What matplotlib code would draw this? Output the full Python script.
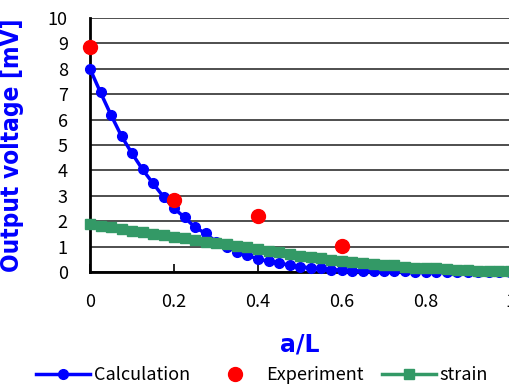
import matplotlib
matplotlib.use("Agg")
import matplotlib.pyplot as plt

x_pos = [0.0, 0.025, 0.05, 0.075, 0.1, 0.125, 0.15, 0.175, 0.2, 0.225,
         0.25, 0.275, 0.3, 0.325, 0.35, 0.375, 0.4, 0.425, 0.45, 0.475,
         0.5, 0.525, 0.55, 0.575, 0.6, 0.625, 0.65, 0.675, 0.7, 0.725,
         0.75, 0.775, 0.8, 0.825, 0.85, 0.875, 0.9, 0.925, 0.95, 0.975, 1.0]

calculation = [8.00, 7.07, 6.18, 5.35, 4.67, 4.04, 3.49, 2.96, 2.51, 2.15,
               1.76, 1.52, 1.19, 1.00, 0.80, 0.67, 0.50, 0.43, 0.34, 0.28,
               0.21, 0.16, 0.14, 0.09, 0.08, 0.05, 0.04, 0.03, 0.03, 0.02,
               0.02, 0.01, 0.01, 0.01, 0.01, 0.0, 0.0, 0.0, 0.0, 0.0, 0.0]

strain = [1.89, 1.82, 1.76, 1.69, 1.62, 1.56, 1.51, 1.45, 1.39, 1.33,
          1.27, 1.20, 1.14, 1.09, 1.03, 0.97, 0.90, 0.84, 0.77, 0.71,
          0.64, 0.58, 0.54, 0.48, 0.43, 0.38, 0.36, 0.33, 0.28, 0.27,
          0.21, 0.16, 0.15, 0.14, 0.10, 0.08, 0.07, 0.04, 0.03, 0.02, 0.02]

exp_x = [0.0, 0.2, 0.4, 0.6]
experiment = [8.85, 2.85, 2.2, 1.02]

x_ticks = [0, 0.2, 0.4, 0.6, 0.8, 1]
x_ticklabels = ["0", "0.2", "0.4", "0.6", "0.8", "1"]
y_ticks = list(range(0, 11))

plt.rcParams['font.family'] = ['Noto Sans CJK JP', 'DejaVu Sans']

W, H = 510, 385
fig = plt.figure(figsize=(W / 100, H / 100), dpi=100)
ax = fig.add_axes([90 / W, (H - 272) / H, 420 / W, 254 / H])

ax.plot(x_pos, calculation, color='#0000FF', lw=2.5, marker='o', ms=7,
        label='Calculation', clip_on=False, zorder=3)
ax.plot(exp_x, experiment, color='#FF0000', lw=0, marker='o', ms=10,
        label='Experiment', clip_on=False, zorder=4)
ax.plot(x_pos, strain, color='#339966', lw=2.5, marker='s', ms=7,
        label='strain', clip_on=False, zorder=5)

ax.set_xlim(0, 1)
ax.set_ylim(0, 10)
ax.set_xticks(x_ticks)
ax.set_xticklabels(x_ticklabels)
ax.set_yticks(y_ticks)
ax.tick_params(axis='x', direction='in', length=6, width=1.2, labelsize=13, pad=15)
ax.tick_params(axis='y', direction='in', length=0, labelsize=13, pad=16)
ax.grid(axis='y', color='#404040', lw=1.3)
ax.set_axisbelow(True)
for s in ['top', 'right']:
    ax.spines[s].set_visible(False)
for s in ['left', 'bottom']:
    ax.spines[s].set_linewidth(2)
    ax.spines[s].set_color('black')

ax.set_ylabel('Output voltage [mV]', color='#0000FF', fontsize=17.5,
              fontweight='bold', family='DejaVu Sans', fontstretch='condensed')
ax.yaxis.set_label_coords(-66 / 420, 0.5)
ax.set_xlabel('a/L', color='#0000FF', fontsize=17, fontweight='bold',
              family='DejaVu Sans')
ax.xaxis.set_label_coords(0.5, -(333 - 272) / 254)

fig.legend(loc='center', bbox_to_anchor=(262 / W, 1 - 375 / H), ncol=3,
           frameon=False, fontsize=13, handlelength=3.0, handletextpad=0.2,
           columnspacing=1.0, borderaxespad=0)

fig.savefig('out.png', dpi=100)
